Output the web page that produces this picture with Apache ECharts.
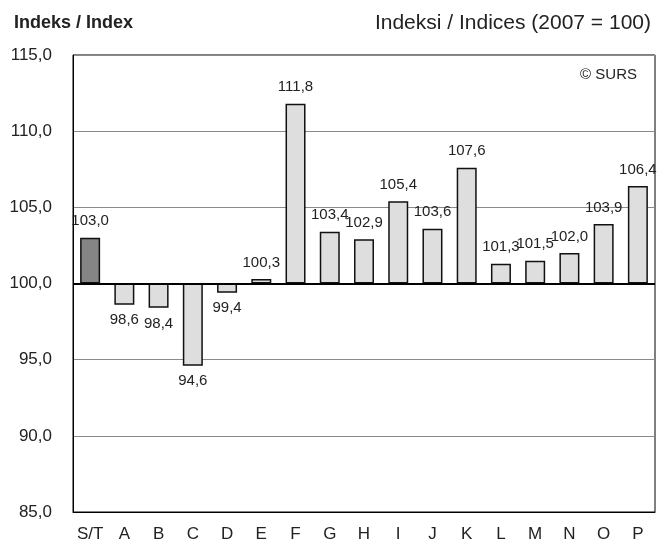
<!DOCTYPE html>
<html>
<head>
<meta charset="utf-8">
<script src="https://cdn.jsdelivr.net/npm/echarts@6/dist/echarts.min.js"></script>
<style>
  html, body { margin: 0; padding: 0; background: #fff; }
  #main { width: 659px; height: 544px; }
</style>
</head>
<body>
<div id="main"></div>
<script>
// podatki
var categories = ["S/T", "A", "B", "C", "D", "E", "F", "G", "H", "I", "J", "K", "L", "M", "N", "O", "P"];
var values = [103.0, 98.6, 98.4, 94.6, 99.4, 100.3, 111.8, 103.4, 102.9, 105.4, 103.6, 107.6, 101.3, 101.5, 102.0, 103.9, 106.4];
var baseValue = 100;

function fmt(v) {
  return v.toFixed(1).replace(".", ",");
}

var chart = echarts.init(document.getElementById("main"));

var seriesData = values.map(function (v, i) {
  return {
    value: v - baseValue,
    itemStyle: { color: i === 0 ? "#858585" : "#dedede" },
    label: v < baseValue ? { position: "bottom", distance: 8 } : { position: "top", distance: 9 }
  };
});

var option = {
  animation: false,
  textStyle: { fontFamily: "Liberation Sans, Arial, sans-serif" },
  title: [
    {
      text: "Indeks / Index",
      left: 9, top: 9,
      textStyle: { fontSize: 18, fontWeight: "bold", color: "#222" }
    },
    {
      text: "Indeksi / Indices (2007 = 100)",
      right: 3, top: 8,
      textStyle: { fontSize: 21, fontWeight: "normal", color: "#222" }
    },
    {
      text: "© SURS",
      right: 17, top: 62,
      textStyle: { fontSize: 15, fontWeight: "normal", color: "#222" }
    }
  ],
  grid: {
    left: 73, right: 4, top: 55, bottom: 32,
    show: true, borderColor: "#000", borderWidth: 1
  },
  xAxis: {
    type: "category",
    data: categories,
    axisLine: { onZero: false, lineStyle: { color: "#000", width: 1 } },
    axisTick: { inside: true, length: 5, lineStyle: { color: "#000" } },
    axisLabel: { color: "#222", fontSize: 17, margin: 14, interval: 0 }
  },
  yAxis: {
    type: "value",
    min: -15, max: 15, interval: 5,
    axisLine: { show: true, lineStyle: { color: "#000" } },
    axisTick: { show: false },
    axisLabel: {
      color: "#222", fontSize: 17, margin: 21,
      formatter: function (v) { return fmt(v + baseValue); }
    },
    splitLine: { lineStyle: { color: "#8a8a8a", width: 1 } }
  },
  series: [
    {
      type: "bar",
      data: seriesData,
      barWidth: 20,
      itemStyle: { borderColor: "#111", borderWidth: 1.5 },
      label: {
        show: true,
        color: "#222",
        fontSize: 15,
        formatter: function (p) { return fmt(values[p.dataIndex]); }
      },
      markLine: {
        silent: true,
        symbol: "none",
        label: { show: false },
        lineStyle: { color: "#000", width: 2, type: "solid" },
        data: [{ yAxis: 0 }]
      }
    }
  ]
};

chart.setOption(option);
</script>
</body>
</html>
